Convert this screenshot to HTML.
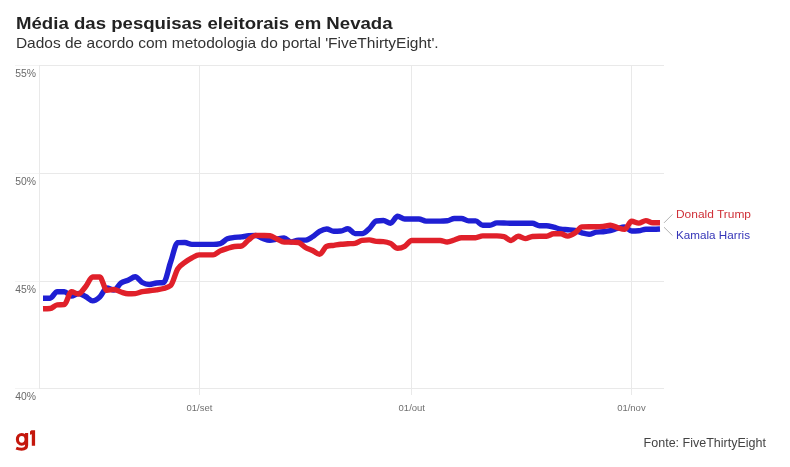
<!DOCTYPE html>
<html><head><meta charset="utf-8">
<style>
html,body{margin:0;padding:0;background:#fff;width:790px;height:467px;overflow:hidden}
svg{display:block;will-change:transform;font-family:"Liberation Sans",sans-serif}
</style></head><body>
<svg width="790" height="467" viewBox="0 0 790 467">
<rect width="790" height="467" fill="#fff"/>
<text x="16.0" y="28.5" font-size="17" font-weight="bold" fill="#222" textLength="376.6" lengthAdjust="spacingAndGlyphs">Média das pesquisas eleitorais em Nevada</text>
<text x="15.9" y="47.7" font-size="15" fill="#333" textLength="422.8" lengthAdjust="spacingAndGlyphs">Dados de acordo com metodologia do portal 'FiveThirtyEight'.</text>
<g stroke="#e9e9e9" stroke-width="1" fill="none">
<path d="M39,65.5H664M39,173.5H664M39,281.5H664M39,388.5H664"/>
<path stroke="#f3f3f3" d="M15,65.5H39M15,173.5H39M15,281.5H39M15,388.5H39"/>
<path d="M39.5,65V389M199.5,65V395M411.5,65V395M631.5,65V395"/>
</g>
<g font-size="11" fill="#6a6a6a">
<text x="15.2" y="77.1" textLength="20.8" lengthAdjust="spacingAndGlyphs">55%</text>
<text x="15.2" y="185.1" textLength="20.8" lengthAdjust="spacingAndGlyphs">50%</text>
<text x="15.2" y="292.8" textLength="20.8" lengthAdjust="spacingAndGlyphs">45%</text>
<text x="15.2" y="399.5" textLength="20.8" lengthAdjust="spacingAndGlyphs">40%</text>
</g>
<g font-size="9.5" fill="#707070" text-anchor="middle">
<text x="199.5" y="410.8">01/set</text>
<text x="411.8" y="410.8">01/out</text>
<text x="631.4" y="410.8">01/nov</text>
</g>
<g fill="none" stroke-width="5.4" stroke-linejoin="round">
<path stroke="#1f1fd3" d="M43.00,298.20C45.36,298.20,47.73,298.20,50.09,298.20C52.46,298.20,54.82,291.70,57.18,291.70C59.55,291.70,61.91,291.70,64.28,291.70C66.64,291.70,69.00,296.00,71.37,296.00C73.73,296.00,76.10,293.50,78.46,293.50C80.82,293.50,83.19,295.27,85.55,296.50C87.92,297.73,90.28,300.90,92.64,300.90C95.01,300.90,97.37,299.15,99.74,297.00C102.10,294.85,104.46,288.00,106.83,288.00C109.19,288.00,111.56,290.00,113.92,290.00C116.28,290.00,118.65,284.62,121.01,283.00C123.38,281.38,125.74,281.35,128.10,280.30C130.47,279.25,132.83,276.70,135.20,276.70C137.56,276.70,139.92,281.20,142.29,282.50C144.65,283.80,147.02,284.50,149.38,284.50C151.74,284.50,154.11,283.33,156.47,283.00C158.84,282.67,161.20,282.83,163.56,282.50C165.93,282.17,168.29,268.65,170.66,262.00C173.02,255.35,175.38,242.67,177.75,242.60C180.11,242.53,182.48,242.50,184.84,242.50C187.20,242.50,189.57,244.40,191.93,244.40C194.30,244.40,196.66,244.40,199.02,244.40C201.39,244.40,203.75,244.40,206.12,244.40C208.48,244.40,210.84,244.40,213.21,244.40C215.57,244.40,217.94,244.13,220.30,243.60C222.66,243.07,225.03,239.73,227.39,238.80C229.76,237.87,232.12,237.72,234.48,237.40C236.85,237.08,239.21,237.20,241.58,236.90C243.94,236.60,246.30,235.67,248.67,235.60C251.03,235.53,253.40,235.50,255.76,235.50C258.12,235.50,260.49,237.70,262.85,238.50C265.22,239.30,267.58,240.30,269.94,240.30C272.31,240.30,274.67,239.38,277.04,239.00C279.40,238.62,281.76,238.00,284.13,238.00C286.49,238.00,288.86,242.00,291.22,242.00C293.58,242.00,295.95,240.10,298.31,240.10C300.68,240.10,303.04,240.10,305.40,240.10C307.77,240.10,310.13,238.15,312.50,236.70C314.86,235.25,317.22,232.68,319.59,231.40C321.95,230.12,324.32,229.00,326.68,229.00C329.04,229.00,331.41,231.20,333.77,231.20C336.14,231.20,338.50,231.13,340.86,231.00C343.23,230.87,345.59,228.70,347.96,228.70C350.32,228.70,352.68,233.60,355.05,233.60C357.41,233.60,359.78,233.60,362.14,233.60C364.50,233.60,366.87,230.80,369.23,228.70C371.60,226.60,373.96,221.33,376.32,221.00C378.69,220.67,381.05,220.50,383.42,220.50C385.78,220.50,388.14,223.20,390.51,223.20C392.87,223.20,395.24,216.30,397.60,216.30C399.96,216.30,402.33,219.00,404.69,219.00C407.06,219.00,409.42,219.00,411.78,219.00C414.15,219.00,416.51,219.00,418.88,219.00C421.24,219.00,423.60,221.10,425.97,221.10C428.33,221.10,430.70,221.10,433.06,221.10C435.42,221.10,437.79,221.10,440.15,221.10C442.52,221.10,444.88,221.00,447.24,220.80C449.61,220.60,451.97,218.50,454.34,218.50C456.70,218.50,459.06,218.50,461.43,218.50C463.79,218.50,466.16,220.90,468.52,220.90C470.88,220.90,473.25,220.90,475.61,220.90C477.98,220.90,480.34,225.30,482.70,225.30C485.07,225.30,487.43,225.30,489.80,225.30C492.16,225.30,494.52,222.90,496.89,222.90C499.25,222.90,501.62,222.93,503.98,223.00C506.34,223.07,508.71,223.30,511.07,223.30C513.44,223.30,515.80,223.30,518.16,223.30C520.53,223.30,522.89,223.30,525.26,223.30C527.62,223.30,529.98,223.30,532.35,223.30C534.71,223.30,537.08,225.70,539.44,225.70C541.80,225.70,544.17,225.70,546.53,225.70C548.90,225.70,551.26,226.63,553.62,227.20C555.99,227.77,558.35,228.70,560.72,229.10C563.08,229.50,565.44,229.47,567.81,229.70C570.17,229.93,572.54,229.98,574.90,230.50C577.26,231.02,579.63,232.18,581.99,232.80C584.36,233.42,586.72,234.20,589.08,234.20C591.45,234.20,593.81,232.53,596.18,232.20C598.54,231.87,600.90,231.97,603.27,231.70C605.63,231.43,608.00,231.13,610.36,230.60C612.72,230.07,615.09,229.10,617.45,228.50C619.82,227.90,622.18,227.00,624.54,227.00C626.91,227.00,629.27,231.00,631.64,231.00C634.00,231.00,636.36,230.93,638.73,230.80C641.09,230.67,643.46,229.20,645.82,229.20C648.18,229.20,650.55,229.20,652.91,229.20C655.28,229.20,657.64,229.10,660.00,229.00"/>
<path stroke="#e0202a" d="M43.00,308.80C45.36,308.75,47.73,308.70,50.09,308.50C52.46,308.30,54.82,305.10,57.18,304.90C59.55,304.70,61.91,304.80,64.28,304.60C66.64,304.40,69.00,291.80,71.37,291.80C73.73,291.80,76.10,294.00,78.46,294.00C80.82,294.00,83.19,289.53,85.55,286.70C87.92,283.87,90.28,277.00,92.64,277.00C95.01,277.00,97.37,277.00,99.74,277.00C102.10,277.00,104.46,290.40,106.83,290.40C109.19,290.40,111.56,289.50,113.92,289.50C116.28,289.50,118.65,291.28,121.01,292.00C123.38,292.72,125.74,293.80,128.10,293.80C130.47,293.80,132.83,293.73,135.20,293.60C137.56,293.47,139.92,292.18,142.29,291.70C144.65,291.22,147.02,291.02,149.38,290.70C151.74,290.38,154.11,290.17,156.47,289.80C158.84,289.43,161.20,289.22,163.56,288.50C165.93,287.78,168.29,287.50,170.66,285.50C173.02,283.50,175.38,272.65,177.75,268.80C180.11,264.95,182.48,264.22,184.84,262.40C187.20,260.58,189.57,259.15,191.93,257.90C194.30,256.65,196.66,254.90,199.02,254.90C201.39,254.90,203.75,254.90,206.12,254.90C208.48,254.90,210.84,254.90,213.21,254.90C215.57,254.90,217.94,251.98,220.30,250.90C222.66,249.82,225.03,249.13,227.39,248.40C229.76,247.67,232.12,246.83,234.48,246.50C236.85,246.17,239.21,246.33,241.58,246.00C243.94,245.67,246.30,241.57,248.67,239.80C251.03,238.03,253.40,235.40,255.76,235.40C258.12,235.40,260.49,235.43,262.85,235.50C265.22,235.57,267.58,235.60,269.94,235.80C272.31,236.00,274.67,237.95,277.04,239.00C279.40,240.05,281.76,242.10,284.13,242.10C286.49,242.10,288.86,242.10,291.22,242.10C293.58,242.10,295.95,242.23,298.31,242.50C300.68,242.77,303.04,246.17,305.40,247.50C307.77,248.83,310.13,249.35,312.50,250.50C314.86,251.65,317.22,254.40,319.59,254.40C321.95,254.40,324.32,246.97,326.68,246.30C329.04,245.63,331.41,245.63,333.77,245.30C336.14,244.97,338.50,244.55,340.86,244.30C343.23,244.05,345.59,243.97,347.96,243.80C350.32,243.63,352.68,243.63,355.05,243.30C357.41,242.97,359.78,240.73,362.14,240.40C364.50,240.07,366.87,239.90,369.23,239.90C371.60,239.90,373.96,241.27,376.32,241.40C378.69,241.53,381.05,241.47,383.42,241.60C385.78,241.73,388.14,242.30,390.51,243.40C392.87,244.50,395.24,248.20,397.60,248.20C399.96,248.20,402.33,247.57,404.69,246.30C407.06,245.03,409.42,240.50,411.78,240.50C414.15,240.50,416.51,240.50,418.88,240.50C421.24,240.50,423.60,240.50,425.97,240.50C428.33,240.50,430.70,240.50,433.06,240.50C435.42,240.50,437.79,240.50,440.15,240.50C442.52,240.50,444.88,242.00,447.24,242.00C449.61,242.00,451.97,240.70,454.34,240.00C456.70,239.30,459.06,237.80,461.43,237.80C463.79,237.80,466.16,237.80,468.52,237.80C470.88,237.80,473.25,237.80,475.61,237.80C477.98,237.80,480.34,235.90,482.70,235.90C485.07,235.90,487.43,235.90,489.80,235.90C492.16,235.90,494.52,235.90,496.89,235.90C499.25,235.90,501.62,236.13,503.98,236.60C506.34,237.07,508.71,240.50,511.07,240.50C513.44,240.50,515.80,236.20,518.16,236.20C520.53,236.20,522.89,238.60,525.26,238.60C527.62,238.60,529.98,236.70,532.35,236.50C534.71,236.30,537.08,236.20,539.44,236.20C541.80,236.20,544.17,236.20,546.53,236.20C548.90,236.20,551.26,233.80,553.62,233.80C555.99,233.80,558.35,233.80,560.72,233.80C563.08,233.80,565.44,236.10,567.81,236.10C570.17,236.10,572.54,234.63,574.90,233.10C577.26,231.57,579.63,226.97,581.99,226.90C584.36,226.83,586.72,226.80,589.08,226.80C591.45,226.80,593.81,226.80,596.18,226.80C598.54,226.80,600.90,226.67,603.27,226.40C605.63,226.13,608.00,225.20,610.36,225.20C612.72,225.20,615.09,226.90,617.45,227.60C619.82,228.30,622.18,229.40,624.54,229.40C626.91,229.40,629.27,221.30,631.64,221.30C634.00,221.30,636.36,223.10,638.73,223.10C641.09,223.10,643.46,220.60,645.82,220.60C648.18,220.60,650.55,222.80,652.91,222.80C655.28,222.80,657.64,222.80,660.00,222.80"/>
</g>
<g stroke="#b4b4b4" stroke-width="1" fill="none">
<path d="M664,222.9L672.5,214.4M664,227.2L672.5,235.6"/>
</g>
<text x="676" y="217.7" font-size="11" fill="#cf3038" textLength="75" lengthAdjust="spacingAndGlyphs">Donald Trump</text>
<text x="676" y="238.5" font-size="11" fill="#3535b8" textLength="74" lengthAdjust="spacingAndGlyphs">Kamala Harris</text>
<text x="643.6" y="446.8" font-size="12.3" fill="#444" textLength="122.4" lengthAdjust="spacingAndGlyphs">Fonte: FiveThirtyEight</text>
<g fill="none" stroke="#c4170c" stroke-width="3.1">
<ellipse cx="21.75" cy="439.35" rx="4.35" ry="4.9"/>
<path d="M26.6,432.9V445.3C26.6,448.6 24.6,449.2 21.6,449.2C19.4,449.2 17.6,448.8 16.2,448.2"/>
</g>
<path fill="#c4170c" d="M31.4,430.2H35.1V445.8H31.8V434.2L30,434.7V431.6Z"/>
</svg>
</body></html>
